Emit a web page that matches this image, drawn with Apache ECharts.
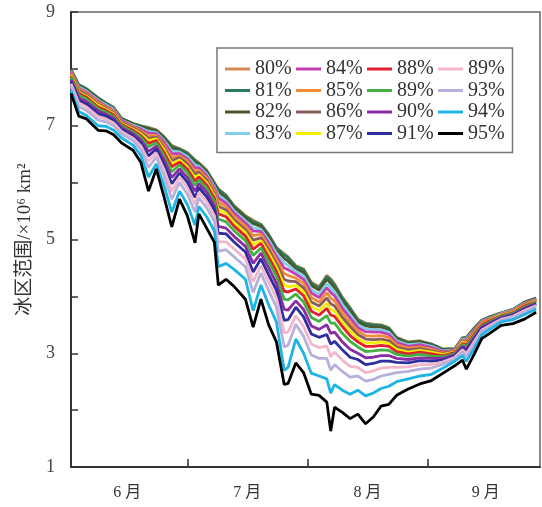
<!DOCTYPE html>
<html><head><meta charset="utf-8">
<script src="https://cdn.jsdelivr.net/npm/echarts@6/dist/echarts.min.js"></script>
<style>html,body{margin:0;padding:0;background:#fff}#c{width:542px;height:507px}</style>
</head><body><div id="c"></div>
<script>
// day index (0 = 1 June)
const days = [0,2,4,7,9,11,13,16,18,20,22,24,26,28,30,32,33,35,37,38,40,42,45,47,49,51,53,55,56,58,60,62,64,66,67,68,70,72,74,76,78,80,82,84,87,90,93,96,99,101,102,104,106,108,111,114,117,120];

const s80 = [7.99,7.72,7.65,7.49,7.40,7.32,7.13,7.04,7.00,6.97,6.93,6.81,6.65,6.60,6.53,6.40,6.35,6.22,6.00,5.89,5.78,5.60,5.42,5.34,5.27,5.09,4.86,4.75,4.70,4.54,4.48,4.25,4.17,4.37,4.31,4.22,3.99,3.80,3.60,3.53,3.51,3.50,3.45,3.28,3.20,3.22,3.16,3.07,3.08,3.27,3.28,3.44,3.58,3.64,3.71,3.77,3.90,3.97];
const s81 = [7.99,7.72,7.65,7.49,7.40,7.32,7.13,7.04,7.00,6.96,6.92,6.80,6.64,6.59,6.52,6.39,6.34,6.21,5.99,5.88,5.77,5.59,5.41,5.32,5.26,5.08,4.85,4.73,4.68,4.53,4.47,4.23,4.15,4.35,4.29,4.20,3.97,3.79,3.59,3.52,3.50,3.49,3.44,3.27,3.19,3.21,3.16,3.07,3.08,3.27,3.28,3.44,3.58,3.64,3.71,3.77,3.90,3.97];
const s82 = [7.98,7.70,7.63,7.47,7.38,7.30,7.12,7.03,6.98,6.94,6.91,6.78,6.60,6.57,6.49,6.35,6.32,6.19,5.97,5.84,5.73,5.56,5.38,5.28,5.23,5.04,4.81,4.67,4.62,4.49,4.42,4.19,4.11,4.30,4.23,4.15,3.92,3.74,3.55,3.48,3.46,3.46,3.41,3.25,3.17,3.20,3.14,3.06,3.07,3.26,3.26,3.43,3.57,3.63,3.70,3.76,3.89,3.96];
const s83 = [7.96,7.68,7.61,7.45,7.37,7.29,7.10,7.01,6.96,6.90,6.88,6.74,6.56,6.54,6.46,6.31,6.29,6.15,5.93,5.78,5.68,5.51,5.33,5.21,5.18,4.99,4.76,4.59,4.54,4.44,4.36,4.12,4.04,4.22,4.15,4.08,3.86,3.68,3.50,3.43,3.41,3.41,3.37,3.22,3.15,3.17,3.12,3.04,3.06,3.25,3.25,3.41,3.56,3.62,3.70,3.76,3.88,3.95];
const s84 = [7.95,7.66,7.59,7.43,7.35,7.27,7.09,6.99,6.94,6.87,6.86,6.71,6.51,6.51,6.42,6.26,6.26,6.12,5.90,5.73,5.64,5.47,5.29,5.15,5.14,4.94,4.70,4.50,4.47,4.39,4.30,4.06,3.98,4.15,4.07,4.01,3.79,3.62,3.45,3.38,3.37,3.37,3.33,3.19,3.12,3.15,3.10,3.03,3.05,3.23,3.23,3.40,3.55,3.61,3.69,3.75,3.87,3.95];
const s85 = [7.93,7.64,7.57,7.41,7.33,7.25,7.07,6.98,6.91,6.82,6.83,6.66,6.45,6.47,6.38,6.20,6.22,6.08,5.86,5.66,5.58,5.41,5.23,5.07,5.09,4.88,4.64,4.40,4.37,4.32,4.23,3.98,3.90,4.06,3.97,3.92,3.71,3.54,3.39,3.31,3.30,3.31,3.28,3.15,3.09,3.11,3.07,3.01,3.04,3.22,3.21,3.38,3.54,3.60,3.68,3.74,3.86,3.94];
const s86 = [7.91,7.62,7.55,7.38,7.31,7.23,7.06,6.96,6.89,6.78,6.80,6.62,6.39,6.44,6.33,6.15,6.18,6.04,5.81,5.59,5.52,5.35,5.17,4.99,5.03,4.82,4.57,4.30,4.27,4.26,4.15,3.90,3.83,3.97,3.87,3.83,3.63,3.47,3.33,3.25,3.24,3.25,3.22,3.11,3.06,3.08,3.04,3.00,3.03,3.20,3.19,3.36,3.52,3.59,3.67,3.73,3.85,3.93];
const s87 = [7.89,7.59,7.52,7.36,7.29,7.21,7.04,6.94,6.86,6.74,6.77,6.58,6.33,6.40,6.28,6.09,6.14,6.00,5.77,5.52,5.46,5.30,5.12,4.91,4.98,4.76,4.51,4.20,4.17,4.19,4.08,3.82,3.75,3.88,3.77,3.74,3.55,3.39,3.26,3.18,3.18,3.20,3.17,3.07,3.02,3.05,3.02,2.98,3.02,3.19,3.17,3.34,3.51,3.58,3.67,3.72,3.84,3.92];
const s88 = [7.87,7.57,7.50,7.33,7.27,7.19,7.02,6.92,6.83,6.69,6.74,6.53,6.28,6.36,6.24,6.03,6.10,5.96,5.73,5.45,5.40,5.24,5.06,4.83,4.93,4.69,4.44,4.09,4.08,4.13,4.01,3.74,3.67,3.79,3.67,3.65,3.47,3.31,3.20,3.12,3.12,3.14,3.12,3.03,2.99,3.02,2.99,2.96,3.01,3.17,3.15,3.33,3.50,3.57,3.66,3.71,3.83,3.91];
const s89 = [7.85,7.54,7.47,7.30,7.24,7.16,7.00,6.89,6.80,6.63,6.70,6.47,6.19,6.31,6.18,5.95,6.05,5.90,5.67,5.36,5.31,5.16,4.98,4.72,4.85,4.61,4.35,3.95,3.94,4.04,3.90,3.63,3.56,3.66,3.53,3.53,3.35,3.21,3.11,3.03,3.04,3.06,3.05,2.98,2.95,2.98,2.95,2.94,2.99,3.15,3.12,3.30,3.48,3.55,3.65,3.70,3.81,3.90];
const s90 = [7.81,7.49,7.42,7.26,7.20,7.13,6.97,6.86,6.75,6.55,6.64,6.40,6.09,6.24,6.09,5.85,5.98,5.83,5.59,5.23,5.20,5.06,4.88,4.58,4.76,4.50,4.23,3.77,3.76,3.92,3.77,3.48,3.42,3.50,3.35,3.37,3.20,3.07,3.00,2.92,2.93,2.96,2.96,2.91,2.89,2.92,2.91,2.91,2.97,3.12,3.08,3.27,3.46,3.53,3.63,3.68,3.79,3.88];
const s91 = [7.78,7.45,7.38,7.21,7.17,7.09,6.94,6.82,6.70,6.47,6.59,6.32,5.98,6.17,6.01,5.74,5.91,5.75,5.52,5.11,5.10,4.96,4.78,4.43,4.66,4.38,4.11,3.58,3.59,3.81,3.64,3.34,3.28,3.33,3.16,3.21,3.06,2.93,2.89,2.80,2.82,2.86,2.86,2.84,2.83,2.87,2.86,2.88,2.95,3.09,3.04,3.24,3.44,3.51,3.62,3.67,3.77,3.86];
const s92 = [7.74,7.40,7.33,7.16,7.12,7.05,6.90,6.78,6.65,6.38,6.52,6.23,5.85,6.09,5.91,5.62,5.83,5.66,5.42,4.96,4.96,4.84,4.66,4.26,4.54,4.25,3.97,3.36,3.37,3.66,3.47,3.16,3.10,3.13,2.94,3.02,2.88,2.77,2.75,2.66,2.69,2.74,2.75,2.75,2.76,2.80,2.80,2.85,2.93,3.06,2.99,3.20,3.41,3.49,3.60,3.65,3.75,3.84];
const s93 = [7.69,7.34,7.27,7.10,7.07,7.00,6.86,6.74,6.58,6.27,6.45,6.12,5.71,6.00,5.80,5.48,5.73,5.56,5.32,4.79,4.82,4.70,4.52,4.07,4.41,4.10,3.81,3.11,3.14,3.51,3.30,2.97,2.91,2.91,2.70,2.80,2.68,2.58,2.60,2.51,2.54,2.60,2.63,2.66,2.68,2.72,2.74,2.81,2.90,3.02,2.94,3.15,3.38,3.46,3.58,3.63,3.72,3.82];
const s94 = [7.62,7.25,7.18,7.00,6.99,6.92,6.79,6.66,6.48,6.10,6.33,5.95,5.48,5.85,5.62,5.25,5.58,5.40,5.15,4.52,4.58,4.48,4.30,3.75,4.20,3.85,3.55,2.70,2.75,3.25,3.00,2.65,2.60,2.55,2.30,2.45,2.35,2.28,2.35,2.25,2.30,2.38,2.42,2.50,2.55,2.60,2.63,2.74,2.86,2.96,2.86,3.08,3.33,3.42,3.55,3.59,3.68,3.78];
const s95 = [7.57,7.17,7.12,6.92,6.91,6.84,6.70,6.57,6.36,5.85,6.24,5.75,5.22,5.71,5.42,4.94,5.45,5.20,4.95,4.20,4.30,4.18,3.95,3.46,3.95,3.50,3.20,2.45,2.47,2.83,2.66,2.28,2.26,2.14,1.63,2.05,1.96,1.85,1.93,1.76,1.88,2.07,2.10,2.26,2.37,2.46,2.52,2.65,2.78,2.88,2.72,2.98,3.26,3.35,3.49,3.52,3.60,3.72];

const seriesNames = ['80%','81%','82%','83%','84%','85%','86%','87%','88%','89%','90%','91%','92%','93%','94%','95%'];
const seriesValues = [s80,s81,s82,s83,s84,s85,s86,s87,s88,s89,s90,s91,s92,s93,s94,s95];
const seriesColors = ['#d98a50','#2b7a5c','#4a5a2c','#7fcfe8','#c23eb2','#f08c38','#8a5c5c','#f5ee00','#e0202c','#42b042','#8a2ca2','#2e2e9e','#f3b6cb','#b8b0dc','#1db4e4','#000000'];
// legend reads row by row as in the original
const legendOrder = ['80%','84%','88%','92%','81%','85%','89%','93%','82%','86%','90%','94%','83%','87%','91%','95%'];
const legendText = {'92%':'89%'};

const monthLabels = ['6 月','7 月','8 月','9 月'];
const monthCenters = [14.5,45.5,76.5,107];
const monthBounds = [30,61,92];
const yLabelValues = [1,3,5,7,9];

const SERIF = '"Liberation Serif","Noto Sans CJK SC",serif';
const chart = echarts.init(document.getElementById('c'));
chart.setOption({
  animation: false,
  backgroundColor: '#fff',
  grid: {left: 71, right: 2, top: 12, bottom: 40, show: true, borderColor: '#666', borderWidth: 1.5, containLabel: false},
  legend: {
    data: legendOrder, left: 217, top: 48, width: 300,
    icon: 'rect', itemWidth: 25, itemHeight: 3, itemGap: 1.5,
    padding: [11, 5, 9, 8], borderColor: '#777', borderWidth: 1.5,
    formatter: n => legendText[n] || n,
    textStyle: {fontFamily: SERIF, fontSize: 20, color: '#333', width: 39.5, lineHeight: 20}
  },
  xAxis: {
    type: 'value', min: 0, max: 121,
    axisLine: {show: true, onZero: false, lineStyle: {color: '#333', width: 2}},
    axisTick: {show: true, inside: true, length: 8, customValues: monthBounds, lineStyle: {color: '#333', width: 1.5}},
    axisLabel: {customValues: monthCenters, formatter: v => monthLabels[monthCenters.indexOf(v)] || '', margin: 18, fontFamily: SERIF, fontSize: 16, color: '#333'},
    splitLine: {show: false}
  },
  yAxis: {
    type: 'value', min: 1, max: 9, interval: 1,
    name: '冰区范围/×10⁶ km²', nameLocation: 'middle', nameGap: 36, nameRotate: 90,
    nameTextStyle: {fontFamily: SERIF, fontSize: 19, color: '#333'},
    axisLine: {show: true, lineStyle: {color: '#333', width: 2}},
    axisTick: {show: true, inside: true, length: 7, lineStyle: {color: '#333', width: 1.5}},
    axisLabel: {formatter: v => yLabelValues.includes(v) ? String(v) : '', margin: 16, fontFamily: SERIF, fontSize: 18, color: '#444'},
    splitLine: {show: false}
  },
  series: seriesNames.map((n, k) => ({
    name: n, type: 'line', symbol: 'none', silent: true,
    data: days.map((d, i) => [d, seriesValues[k][i]]),
    lineStyle: {width: 2.8, color: seriesColors[k]},
    itemStyle: {color: seriesColors[k]}
  }))
});
</script></body></html>
